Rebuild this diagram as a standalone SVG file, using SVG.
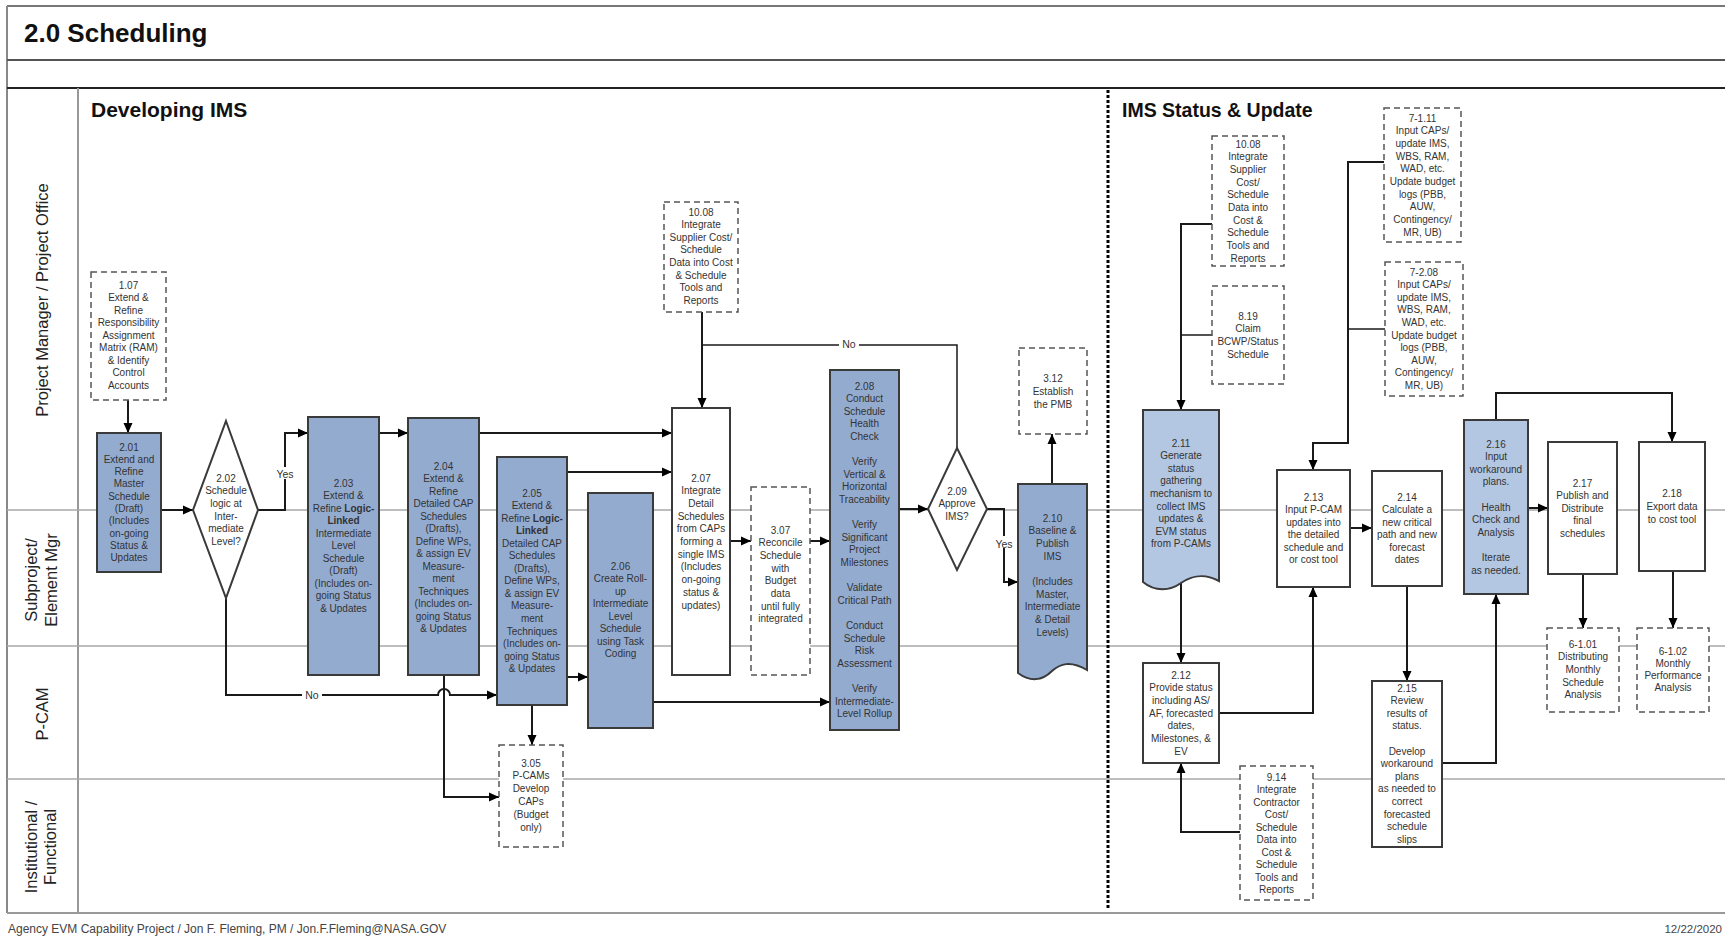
<svg xmlns="http://www.w3.org/2000/svg" width="1725" height="943" viewBox="0 0 1725 943">
<style>
.t{font-family:"Liberation Sans",Arial,sans-serif;font-size:10px;fill:#333;text-anchor:middle}
.b{font-weight:bold}
.h{font-family:"Liberation Sans",Arial,sans-serif;font-weight:bold;fill:#111}
.lb{font-family:"Liberation Sans",Arial,sans-serif;font-size:16.5px;fill:#222;text-anchor:middle}
.box{fill:#94abd0;stroke:#3a3a3a;stroke-width:2}
.lbox{fill:#b4c7e2;stroke:#3a3a3a;stroke-width:2}
.wbox{fill:#fff;stroke:#3a3a3a;stroke-width:2}
.dash{fill:#fff;stroke:#555;stroke-width:1.5;stroke-dasharray:6 4}
.ln{fill:none;stroke:#1a1a1a;stroke-width:2}
.thin{fill:none;stroke:#1a1a1a;stroke-width:1.5}
.lane{stroke:#a8a8a8;stroke-width:1.5}
.lbl{font-family:"Liberation Sans",Arial,sans-serif;font-size:10.5px;fill:#333;text-anchor:middle}
</style>
<defs>
<marker id="ah" markerWidth="10" markerHeight="10" refX="10" refY="5" orient="auto" markerUnits="userSpaceOnUse"><path d="M0,0.5 L10,5 L0,9.5 z" fill="#000"/></marker>
</defs>
<rect width="1725" height="943" fill="#fff"/>
<g id="frame">
<line x1="7" y1="6" x2="1725" y2="6" stroke="#777" stroke-width="2"/>
<line x1="7" y1="6" x2="7" y2="913" stroke="#888" stroke-width="2"/>
<line x1="7" y1="60" x2="1725" y2="60" stroke="#555" stroke-width="2"/>
<line x1="7" y1="88" x2="1725" y2="88" stroke="#222" stroke-width="2"/>
<line x1="78" y1="88" x2="78" y2="913" stroke="#999" stroke-width="2"/>
<line x1="7" y1="913" x2="1725" y2="913" stroke="#999" stroke-width="2"/>
<line class="lane" x1="7" y1="510" x2="1725" y2="510"/>
<line class="lane" x1="7" y1="646" x2="1725" y2="646"/>
<line class="lane" x1="7" y1="779" x2="1725" y2="779"/>
<line x1="1108" y1="90" x2="1108" y2="908" stroke="#000" stroke-width="3" stroke-dasharray="3 2"/>
<text class="h" x="24" y="42" font-size="26">2.0 Scheduling</text>
<text class="h" x="91" y="117" font-size="21">Developing IMS</text>
<text class="h" x="1122" y="117" font-size="19.5">IMS Status &amp; Update</text>
<text class="lb" transform="translate(48,300) rotate(-90)">Project Manager / Project Office</text>
<text class="lb" transform="translate(37,580) rotate(-90)">Subproject/</text>
<text class="lb" transform="translate(57,580) rotate(-90)">Element Mgr</text>
<text class="lb" transform="translate(48,714) rotate(-90)">P-CAM</text>
<text class="lb" transform="translate(37,847) rotate(-90)">Institutional /</text>
<text class="lb" transform="translate(56,847) rotate(-90)">Functional</text>
<text x="8" y="933" font-family="Liberation Sans, Arial, sans-serif" font-size="12" fill="#444">Agency EVM Capability Project / Jon F. Fleming, PM / Jon.F.Fleming@NASA.GOV</text>
<text x="1722" y="933" text-anchor="end" font-family="Liberation Sans, Arial, sans-serif" font-size="11.5" fill="#444">12/22/2020</text>
</g>
<g id="connectors">
<path class="ln" d="M128,400 V433" marker-end="url(#ah)"/>
<path class="ln" d="M161,510 H193" marker-end="url(#ah)"/>
<path class="ln" d="M258,510 H285 V433 H308" marker-end="url(#ah)"/>
<path class="ln" d="M226,598 V695 H438 A6,6 0 0 1 450,695 H497" marker-end="url(#ah)"/>
<path class="ln" d="M379,433 H408" marker-end="url(#ah)"/>
<path class="ln" d="M479,433 H672" marker-end="url(#ah)"/>
<path class="ln" d="M567,472 H672" marker-end="url(#ah)"/>
<path class="ln" d="M567,677 H588" marker-end="url(#ah)"/>
<path class="ln" d="M444,675 V797 H499" marker-end="url(#ah)"/>
<path class="ln" d="M532,705 V745" marker-end="url(#ah)"/>
<path class="ln" d="M702,312 V408" marker-end="url(#ah)"/>
<path class="ln" d="M730,541 H751" marker-end="url(#ah)"/>
<path class="ln" d="M810,541 H830" marker-end="url(#ah)"/>
<path class="ln" d="M653,702 H830" marker-end="url(#ah)"/>
<path class="ln" d="M899,509 H928" marker-end="url(#ah)"/>
<path class="thin" d="M957,448 V345 H702"/>
<path class="ln" d="M987,509 H1004 V582 H1018" marker-end="url(#ah)"/>
<path class="ln" d="M1052,484 V434" marker-end="url(#ah)"/>
<path class="ln" d="M1212,224 H1181 V410" marker-end="url(#ah)"/>
<path class="thin" d="M1212,335 H1181"/>
<path class="ln" d="M1181,583 V663" marker-end="url(#ah)"/>
<path class="ln" d="M1240,832 H1181 V763" marker-end="url(#ah)"/>
<path class="ln" d="M1219,713 H1313 V587" marker-end="url(#ah)"/>
<path class="ln" d="M1384,162 H1348 V443 H1313 V470" marker-end="url(#ah)"/>
<path class="thin" d="M1385,329 H1348"/>
<path class="ln" d="M1350,528 H1372" marker-end="url(#ah)"/>
<path class="ln" d="M1407,586 V681" marker-end="url(#ah)"/>
<path class="ln" d="M1442,763 H1496 V594" marker-end="url(#ah)"/>
<path class="ln" d="M1528,508 H1548" marker-end="url(#ah)"/>
<path class="ln" d="M1496,420 V393 H1672 V442" marker-end="url(#ah)"/>
<path class="ln" d="M1583,574 V628" marker-end="url(#ah)"/>
<path class="ln" d="M1673,571 V628" marker-end="url(#ah)"/>
<rect x="275" y="467" width="20" height="12" fill="#fff"/>
<text class="lbl" x="285" y="478">Yes</text>
<rect x="994" y="536" width="20" height="12" fill="#fff"/>
<text class="lbl" x="1004" y="548">Yes</text>
<rect x="302" y="689" width="20" height="12" fill="#fff"/>
<text class="lbl" x="312" y="699">No</text>
<rect x="839" y="338" width="20" height="12" fill="#fff"/>
<text class="lbl" x="849" y="348">No</text>
</g>
<g id="n107"><rect class="dash" x="91" y="272" width="75" height="128"/>
<text class="t" y="288.5"><tspan x="128.5">1.07</tspan><tspan x="128.5" dy="12.5">Extend &amp;</tspan><tspan x="128.5" dy="12.5">Refine</tspan><tspan x="128.5" dy="12.5">Responsibility</tspan><tspan x="128.5" dy="12.5">Assignment</tspan><tspan x="128.5" dy="12.5">Matrix (RAM)</tspan><tspan x="128.5" dy="12.5">&amp; Identify</tspan><tspan x="128.5" dy="12.5">Control</tspan><tspan x="128.5" dy="12.5">Accounts</tspan></text></g>
<g id="n201"><rect class="box" x="97" y="433" width="64" height="139"/>
<text class="t" y="450.5"><tspan x="129">2.01</tspan><tspan x="129" dy="12.3">Extend and</tspan><tspan x="129" dy="12.3">Refine</tspan><tspan x="129" dy="12.3">Master</tspan><tspan x="129" dy="12.3">Schedule</tspan><tspan x="129" dy="12.3">(Draft)</tspan><tspan x="129" dy="12.3">(Includes</tspan><tspan x="129" dy="12.3">on-going</tspan><tspan x="129" dy="12.3">Status &amp;</tspan><tspan x="129" dy="12.3">Updates</tspan></text></g>
<g id="n202"><path class="wbox" d="M226,421 L258,510 L226,598 L193,510 Z"/>
<text class="t" y="481.5"><tspan x="226">2.02</tspan><tspan x="226" dy="12.7">Schedule</tspan><tspan x="226" dy="12.7">logic at</tspan><tspan x="226" dy="12.7">Inter-</tspan><tspan x="226" dy="12.7">mediate</tspan><tspan x="226" dy="12.7">Level?</tspan></text></g>
<g id="n203"><rect class="box" x="308" y="417" width="71" height="258"/>
<text class="t" y="486.5"><tspan x="343.5">2.03</tspan><tspan x="343.5" dy="12.5">Extend &amp;</tspan><tspan x="343.5" dy="12.5">Refine <tspan class="b">Logic-</tspan></tspan><tspan x="343.5" dy="12.5" class="b">Linked</tspan><tspan x="343.5" dy="12.5">Intermediate</tspan><tspan x="343.5" dy="12.5">Level</tspan><tspan x="343.5" dy="12.5">Schedule</tspan><tspan x="343.5" dy="12.5">(Draft)</tspan><tspan x="343.5" dy="12.5">(Includes on-</tspan><tspan x="343.5" dy="12.5">going Status</tspan><tspan x="343.5" dy="12.5">&amp; Updates</tspan></text></g>
<g id="n204"><rect class="box" x="408" y="418" width="71" height="257"/>
<text class="t" y="469.5"><tspan x="443.5">2.04</tspan><tspan x="443.5" dy="12.5">Extend &amp;</tspan><tspan x="443.5" dy="12.5">Refine</tspan><tspan x="443.5" dy="12.5">Detailed CAP</tspan><tspan x="443.5" dy="12.5">Schedules</tspan><tspan x="443.5" dy="12.5">(Drafts),</tspan><tspan x="443.5" dy="12.5">Define WPs,</tspan><tspan x="443.5" dy="12.5">&amp; assign EV</tspan><tspan x="443.5" dy="12.5">Measure-</tspan><tspan x="443.5" dy="12.5">ment</tspan><tspan x="443.5" dy="12.5">Techniques</tspan><tspan x="443.5" dy="12.5">(Includes on-</tspan><tspan x="443.5" dy="12.5">going Status</tspan><tspan x="443.5" dy="12.5">&amp; Updates</tspan></text></g>
<g id="n205"><rect class="box" x="497" y="457" width="70" height="248"/>
<text class="t" y="496.5"><tspan x="532">2.05</tspan><tspan x="532" dy="12.55">Extend &amp;</tspan><tspan x="532" dy="12.55">Refine <tspan class="b">Logic-</tspan></tspan><tspan x="532" dy="12.55" class="b">Linked</tspan><tspan x="532" dy="12.55">Detailed CAP</tspan><tspan x="532" dy="12.55">Schedules</tspan><tspan x="532" dy="12.55">(Drafts),</tspan><tspan x="532" dy="12.55">Define WPs,</tspan><tspan x="532" dy="12.55">&amp; assign EV</tspan><tspan x="532" dy="12.55">Measure-</tspan><tspan x="532" dy="12.55">ment</tspan><tspan x="532" dy="12.55">Techniques</tspan><tspan x="532" dy="12.55">(Includes on-</tspan><tspan x="532" dy="12.55">going Status</tspan><tspan x="532" dy="12.55">&amp; Updates</tspan></text></g>
<g id="n206"><rect class="box" x="588" y="493" width="65" height="235"/>
<text class="t" y="569.5"><tspan x="620.5">2.06</tspan><tspan x="620.5" dy="12.5">Create Roll-</tspan><tspan x="620.5" dy="12.5">up</tspan><tspan x="620.5" dy="12.5">Intermediate</tspan><tspan x="620.5" dy="12.5">Level</tspan><tspan x="620.5" dy="12.5">Schedule</tspan><tspan x="620.5" dy="12.5">using Task</tspan><tspan x="620.5" dy="12.5">Coding</tspan></text></g>
<g id="n207"><rect class="wbox" x="672" y="408" width="58" height="267"/>
<text class="t" y="481.5"><tspan x="701">2.07</tspan><tspan x="701" dy="12.7">Integrate</tspan><tspan x="701" dy="12.7">Detail</tspan><tspan x="701" dy="12.7">Schedules</tspan><tspan x="701" dy="12.7">from CAPs</tspan><tspan x="701" dy="12.7">forming a</tspan><tspan x="701" dy="12.7">single IMS</tspan><tspan x="701" dy="12.7">(Includes</tspan><tspan x="701" dy="12.7">on-going</tspan><tspan x="701" dy="12.7">status &amp;</tspan><tspan x="701" dy="12.7">updates)</tspan></text></g>
<g id="n307"><rect class="dash" x="751" y="487" width="59" height="188"/>
<text class="t" y="533.5"><tspan x="780.5">3.07</tspan><tspan x="780.5" dy="12.7">Reconcile</tspan><tspan x="780.5" dy="12.7">Schedule</tspan><tspan x="780.5" dy="12.7">with</tspan><tspan x="780.5" dy="12.7">Budget</tspan><tspan x="780.5" dy="12.7">data</tspan><tspan x="780.5" dy="12.7">until fully</tspan><tspan x="780.5" dy="12.7">integrated</tspan></text></g>
<g id="n305"><rect class="dash" x="499" y="745" width="64" height="102"/>
<text class="t" y="766.5"><tspan x="531">3.05</tspan><tspan x="531" dy="12.8">P-CAMs</tspan><tspan x="531" dy="12.8">Develop</tspan><tspan x="531" dy="12.8">CAPs</tspan><tspan x="531" dy="12.8">(Budget</tspan><tspan x="531" dy="12.8">only)</tspan></text></g>
<g id="n1008a"><rect class="dash" x="664" y="202" width="74" height="110"/>
<text class="t" y="215.5"><tspan x="701">10.08</tspan><tspan x="701" dy="12.6">Integrate</tspan><tspan x="701" dy="12.6">Supplier Cost/</tspan><tspan x="701" dy="12.6">Schedule</tspan><tspan x="701" dy="12.6">Data into Cost</tspan><tspan x="701" dy="12.6">&amp; Schedule</tspan><tspan x="701" dy="12.6">Tools and</tspan><tspan x="701" dy="12.6">Reports</tspan></text></g>
<g id="n208"><rect class="box" x="830" y="370" width="69" height="360"/>
<text class="t" y="389.5"><tspan x="864.5">2.08</tspan><tspan x="864.5" dy="12.6">Conduct</tspan><tspan x="864.5" dy="12.6">Schedule</tspan><tspan x="864.5" dy="12.6">Health</tspan><tspan x="864.5" dy="12.6">Check</tspan><tspan x="864.5" dy="25.2">Verify</tspan><tspan x="864.5" dy="12.6">Vertical &amp;</tspan><tspan x="864.5" dy="12.6">Horizontal</tspan><tspan x="864.5" dy="12.6">Traceability</tspan><tspan x="864.5" dy="25.2">Verify</tspan><tspan x="864.5" dy="12.6">Significant</tspan><tspan x="864.5" dy="12.6">Project</tspan><tspan x="864.5" dy="12.6">Milestones</tspan><tspan x="864.5" dy="25.2">Validate</tspan><tspan x="864.5" dy="12.6">Critical Path</tspan><tspan x="864.5" dy="25.2">Conduct</tspan><tspan x="864.5" dy="12.6">Schedule</tspan><tspan x="864.5" dy="12.6">Risk</tspan><tspan x="864.5" dy="12.6">Assessment</tspan><tspan x="864.5" dy="25.2">Verify</tspan><tspan x="864.5" dy="12.6">Intermediate-</tspan><tspan x="864.5" dy="12.6">Level Rollup</tspan></text></g>
<g id="n209"><path class="wbox" d="M957,448 L987,509 L957,570 L928,509 Z"/>
<text class="t" y="494.5"><tspan x="957">2.09</tspan><tspan x="957" dy="12.5">Approve</tspan><tspan x="957" dy="12.5">IMS?</tspan></text></g>
<g id="n210"><path class="box" d="M1018,484 H1087 V670 C1070,660 1060,664 1052,671 C1042,681 1030,682 1018,673 Z"/>
<text class="t" y="521.5"><tspan x="1052.5">2.10</tspan><tspan x="1052.5" dy="12.7">Baseline &amp;</tspan><tspan x="1052.5" dy="12.7">Publish</tspan><tspan x="1052.5" dy="12.7">IMS</tspan><tspan x="1052.5" dy="25.4">(Includes</tspan><tspan x="1052.5" dy="12.7">Master,</tspan><tspan x="1052.5" dy="12.7">Intermediate</tspan><tspan x="1052.5" dy="12.7">&amp; Detail</tspan><tspan x="1052.5" dy="12.7">Levels)</tspan></text></g>
<g id="n312"><rect class="dash" x="1019" y="348" width="68" height="86"/>
<text class="t" y="381.5"><tspan x="1053">3.12</tspan><tspan x="1053" dy="13">Establish</tspan><tspan x="1053" dy="13">the PMB</tspan></text></g>
<g id="n1008b"><rect class="dash" x="1212" y="136" width="72" height="130"/>
<text class="t" y="147.5"><tspan x="1248">10.08</tspan><tspan x="1248" dy="12.7">Integrate</tspan><tspan x="1248" dy="12.7">Supplier</tspan><tspan x="1248" dy="12.7">Cost/</tspan><tspan x="1248" dy="12.7">Schedule</tspan><tspan x="1248" dy="12.7">Data into</tspan><tspan x="1248" dy="12.7">Cost &amp;</tspan><tspan x="1248" dy="12.7">Schedule</tspan><tspan x="1248" dy="12.7">Tools and</tspan><tspan x="1248" dy="12.7">Reports</tspan></text></g>
<g id="n819"><rect class="dash" x="1212" y="286" width="72" height="98"/>
<text class="t" y="319.5"><tspan x="1248">8.19</tspan><tspan x="1248" dy="12.7">Claim</tspan><tspan x="1248" dy="12.7">BCWP/Status</tspan><tspan x="1248" dy="12.7">Schedule</tspan></text></g>
<g id="n211"><path class="lbox" d="M1143,410 H1219 V581 C1202,572 1190,577 1181,583 C1170,591 1155,592 1143,582 Z"/>
<text class="t" y="446.5"><tspan x="1181">2.11</tspan><tspan x="1181" dy="12.6">Generate</tspan><tspan x="1181" dy="12.6">status</tspan><tspan x="1181" dy="12.6">gathering</tspan><tspan x="1181" dy="12.6">mechanism to</tspan><tspan x="1181" dy="12.6">collect IMS</tspan><tspan x="1181" dy="12.6">updates &amp;</tspan><tspan x="1181" dy="12.6">EVM status</tspan><tspan x="1181" dy="12.6">from P-CAMs</tspan></text></g>
<g id="n212"><rect class="wbox" x="1143" y="663" width="76" height="100"/>
<text class="t" y="678.5"><tspan x="1181">2.12</tspan><tspan x="1181" dy="12.7">Provide status</tspan><tspan x="1181" dy="12.7">including AS/</tspan><tspan x="1181" dy="12.7">AF, forecasted</tspan><tspan x="1181" dy="12.7">dates,</tspan><tspan x="1181" dy="12.7">Milestones, &amp;</tspan><tspan x="1181" dy="12.7">EV</tspan></text></g>
<g id="n914"><rect class="dash" x="1240" y="766" width="73" height="134"/>
<text class="t" y="780.5"><tspan x="1276.5">9.14</tspan><tspan x="1276.5" dy="12.5">Integrate</tspan><tspan x="1276.5" dy="12.5">Contractor</tspan><tspan x="1276.5" dy="12.5">Cost/</tspan><tspan x="1276.5" dy="12.5">Schedule</tspan><tspan x="1276.5" dy="12.5">Data into</tspan><tspan x="1276.5" dy="12.5">Cost &amp;</tspan><tspan x="1276.5" dy="12.5">Schedule</tspan><tspan x="1276.5" dy="12.5">Tools and</tspan><tspan x="1276.5" dy="12.5">Reports</tspan></text></g>
<g id="n7111"><rect class="dash" x="1384" y="108" width="77" height="134"/>
<text class="t" y="121.5"><tspan x="1422.5">7-1.11</tspan><tspan x="1422.5" dy="12.7">Input CAPs/</tspan><tspan x="1422.5" dy="12.7">update IMS,</tspan><tspan x="1422.5" dy="12.7">WBS, RAM,</tspan><tspan x="1422.5" dy="12.7">WAD, etc.</tspan><tspan x="1422.5" dy="12.7">Update budget</tspan><tspan x="1422.5" dy="12.7">logs (PBB,</tspan><tspan x="1422.5" dy="12.7">AUW,</tspan><tspan x="1422.5" dy="12.7">Contingency/</tspan><tspan x="1422.5" dy="12.7">MR, UB)</tspan></text></g>
<g id="n7208"><rect class="dash" x="1385" y="262" width="78" height="134"/>
<text class="t" y="275.5"><tspan x="1424">7-2.08</tspan><tspan x="1424" dy="12.6">Input CAPs/</tspan><tspan x="1424" dy="12.6">update IMS,</tspan><tspan x="1424" dy="12.6">WBS, RAM,</tspan><tspan x="1424" dy="12.6">WAD, etc.</tspan><tspan x="1424" dy="12.6">Update budget</tspan><tspan x="1424" dy="12.6">logs (PBB,</tspan><tspan x="1424" dy="12.6">AUW,</tspan><tspan x="1424" dy="12.6">Contingency/</tspan><tspan x="1424" dy="12.6">MR, UB)</tspan></text></g>
<g id="n213"><rect class="wbox" x="1277" y="470" width="73" height="117"/>
<text class="t" y="500.5"><tspan x="1313.5">2.13</tspan><tspan x="1313.5" dy="12.5">Input P-CAM</tspan><tspan x="1313.5" dy="12.5">updates into</tspan><tspan x="1313.5" dy="12.5">the detailed</tspan><tspan x="1313.5" dy="12.5">schedule and</tspan><tspan x="1313.5" dy="12.5">or cost tool</tspan></text></g>
<g id="n214"><rect class="wbox" x="1372" y="471" width="70" height="115"/>
<text class="t" y="500.5"><tspan x="1407">2.14</tspan><tspan x="1407" dy="12.5">Calculate a</tspan><tspan x="1407" dy="12.5">new critical</tspan><tspan x="1407" dy="12.5">path and new</tspan><tspan x="1407" dy="12.5">forecast</tspan><tspan x="1407" dy="12.5">dates</tspan></text></g>
<g id="n215"><rect class="wbox" x="1372" y="681" width="70" height="166"/>
<text class="t" y="691.5"><tspan x="1407">2.15</tspan><tspan x="1407" dy="12.6">Review</tspan><tspan x="1407" dy="12.6">results of</tspan><tspan x="1407" dy="12.6">status.</tspan><tspan x="1407" dy="25.2">Develop</tspan><tspan x="1407" dy="12.6">workaround</tspan><tspan x="1407" dy="12.6">plans</tspan><tspan x="1407" dy="12.6">as needed to</tspan><tspan x="1407" dy="12.6">correct</tspan><tspan x="1407" dy="12.6">forecasted</tspan><tspan x="1407" dy="12.6">schedule</tspan><tspan x="1407" dy="12.6">slips</tspan></text></g>
<g id="n216"><rect class="lbox" x="1464" y="420" width="64" height="174"/>
<text class="t" y="447.5"><tspan x="1496">2.16</tspan><tspan x="1496" dy="12.6">Input</tspan><tspan x="1496" dy="12.6">workaround</tspan><tspan x="1496" dy="12.6">plans.</tspan><tspan x="1496" dy="25.2">Health</tspan><tspan x="1496" dy="12.6">Check and</tspan><tspan x="1496" dy="12.6">Analysis</tspan><tspan x="1496" dy="25.2">Iterate</tspan><tspan x="1496" dy="12.6">as needed.</tspan></text></g>
<g id="n217"><rect class="wbox" x="1548" y="442" width="69" height="132"/>
<text class="t" y="486.5"><tspan x="1582.5">2.17</tspan><tspan x="1582.5" dy="12.5">Publish and</tspan><tspan x="1582.5" dy="12.5">Distribute</tspan><tspan x="1582.5" dy="12.5">final</tspan><tspan x="1582.5" dy="12.5">schedules</tspan></text></g>
<g id="n218"><rect class="wbox" x="1639" y="442" width="66" height="129"/>
<text class="t" y="496.5"><tspan x="1672">2.18</tspan><tspan x="1672" dy="13">Export data</tspan><tspan x="1672" dy="13">to cost tool</tspan></text></g>
<g id="n6101"><rect class="dash" x="1547" y="628" width="72" height="84"/>
<text class="t" y="647.5"><tspan x="1583">6-1.01</tspan><tspan x="1583" dy="12.7">Distributing</tspan><tspan x="1583" dy="12.7">Monthly</tspan><tspan x="1583" dy="12.7">Schedule</tspan><tspan x="1583" dy="12.7">Analysis</tspan></text></g>
<g id="n6102"><rect class="dash" x="1637" y="628" width="72" height="84"/>
<text class="t" y="654.5"><tspan x="1673">6-1.02</tspan><tspan x="1673" dy="12.3">Monthly</tspan><tspan x="1673" dy="12.3">Performance</tspan><tspan x="1673" dy="12.3">Analysis</tspan></text></g>
</svg>
